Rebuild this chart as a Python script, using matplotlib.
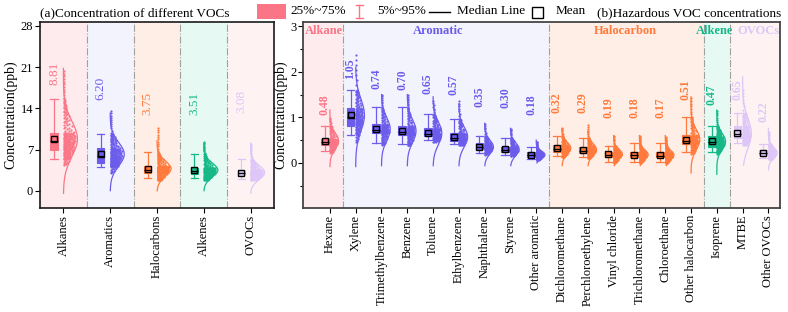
import numpy as np
import matplotlib
matplotlib.use("Agg")
import matplotlib.pyplot as plt
from matplotlib.patches import Rectangle

plt.rcParams['font.family'] = ['Liberation Serif', 'DejaVu Serif']

# ---------------- panel (a): VOC groups ----------------
a_names = ['Alkanes', 'Aromatics', 'Halocarbons', 'Alkenes', 'OVOCs']
a_mean = [8.81, 6.20, 3.75, 3.51, 3.08]
a_min = [4.4, 2.96, 1.8, 1.8, 1.8]
a_p5 = [5.35, 4.1, 2.1, 2.1, 2.0]
a_q1 = [6.93, 4.77, 3.07, 2.8, 2.6]
a_med = [8.4, 5.9, 3.55, 3.4, 3.0]
a_q3 = [9.88, 7.2, 4.2, 3.9, 3.5]
a_p95 = [15.6, 9.66, 6.54, 6.2, 5.35]
a_max = [20.6, 13.7, 10.9, 8.35, 8.07]
a_sd = [3.0, 2.0, 1.3, 1.2, 1.2]
a_curve_lo = [-0.45, 0.0, 0.0, 0.0, -0.4]
a_curve_hi = [20.8, 13.2, 8.5, 8.0, 8.1]
a_label_y = [18.0, 15.45, 12.9, 12.9, 13.2]
a_group = ['Alkane', 'Aromatic', 'Halocarbon', 'Alkene', 'OVOCs']

# ---------------- panel (b): hazardous VOCs ----------------
b_names = ['Hexane', 'Xylene', 'Trimethylbenzene', 'Benzene', 'Toluene',
           'Ethylbenzene', 'Naphthalene', 'Styrene', 'Other aromatic',
           'Dichloromethane', 'Perchloroethylene', 'Vinyl chloride',
           'Trichloromethane', 'Chloroethane', 'Other halocarbon',
           'Isoprene', 'MTBE', 'Other OVOCs']
b_group = ['Alkane'] + ['Aromatic'] * 8 + ['Halocarbon'] * 6 + ['Alkene'] + ['OVOCs'] * 2
b_mean = [0.48, 1.05, 0.74, 0.70, 0.65, 0.57, 0.35, 0.30, 0.18,
          0.32, 0.29, 0.19, 0.18, 0.17, 0.51, 0.47, 0.65, 0.22]
b_min = [0.22, 0.45, 0.40, 0.38, 0.45, 0.38, 0.18, 0.15, 0.06,
         0.12, 0.10, 0.00, 0.00, 0.00, 0.20, 0.20, 0.38, 0.08]
b_p5 = [0.27, 0.61, 0.44, 0.42, 0.50, 0.42, 0.21, 0.18, 0.08,
        0.15, 0.13, 0.02, 0.02, 0.01, 0.25, 0.25, 0.43, 0.10]
b_q1 = [0.39, 0.82, 0.65, 0.61, 0.59, 0.49, 0.31, 0.25, 0.12,
        0.25, 0.22, 0.12, 0.12, 0.12, 0.42, 0.36, 0.55, 0.17]
b_med = [0.45, 1.00, 0.72, 0.68, 0.63, 0.55, 0.34, 0.29, 0.18,
         0.31, 0.27, 0.18, 0.17, 0.16, 0.48, 0.45, 0.63, 0.21]
b_q3 = [0.52, 1.20, 0.85, 0.81, 0.77, 0.65, 0.43, 0.36, 0.25,
        0.39, 0.36, 0.25, 0.25, 0.24, 0.61, 0.58, 0.80, 0.28]
b_p95 = [0.82, 1.60, 1.23, 1.23, 1.07, 0.97, 0.59, 0.55, 0.36,
         0.58, 0.55, 0.38, 0.43, 0.43, 1.01, 0.81, 1.10, 0.42]
b_max = [1.00, 2.43, 1.52, 1.50, 1.38, 1.38, 0.87, 0.76, 0.47,
         0.79, 0.85, 0.61, 0.61, 0.58, 1.45, 1.16, 1.64, 0.70]
b_sd = [0.18, 0.35, 0.25, 0.25, 0.25, 0.22, 0.15, 0.14, 0.08,
        0.13, 0.13, 0.11, 0.11, 0.11, 0.22, 0.18, 0.33, 0.12]
b_curve_lo = [-0.08, -0.08, -0.06, -0.06, -0.06, -0.06, -0.06, -0.06, 0.0,
              -0.06, -0.06, -0.06, -0.06, -0.06, -0.22, -0.25, -0.05, -0.15]
b_curve_hi = [1.16, 2.1, 1.5, 1.5, 1.45, 1.3, 0.87, 0.76, 0.5,
              0.75, 0.7, 0.6, 0.6, 0.6, 1.45, 1.16, 1.89, 0.76]
b_label_y = [1.05, 1.85, 1.63, 1.60, 1.52, 1.49, 1.23, 1.20, 1.05,
             1.09, 1.09, 0.98, 0.98, 0.98, 1.38, 1.27, 1.38, 0.90]
b_group_titles = ['Alkane', 'Aromatic', 'Halocarbon', 'Alkene', 'OVOCs']
b_group_title_x = [-0.22, 4.2, 11.45, 14.9, 16.6]

colors = {'Alkane': '#FA7585', 'Aromatic': '#6C5CEC', 'Halocarbon': '#FF7A3C',
          'Alkene': '#16B888', 'OVOCs': '#DEC6F8'}
bands = {'Alkane': '#FDEBEE', 'Aromatic': '#F3F3FD', 'Halocarbon': '#FEEEE6',
         'Alkene': '#E6FAF3', 'OVOCs': '#FEF3F2'}

QLEV = [0, 0.05, 0.25, 0.5, 0.75, 0.95, 1.0]


def draw_panel(ax, names, groups, mean, mn, p5, q1, med, q3, p95, mx, sd,
               clo, chi, lab_y, box_w, half_w, n_pts, lab_kw, xlim):
    x = np.arange(len(names))
    # background bands per group
    edges = [xlim[0]]
    for i in range(1, len(groups)):
        if groups[i] != groups[i - 1]:
            edges.append(i - 0.5)
    edges.append(xlim[1])
    order = [g for i, g in enumerate(groups) if i == 0 or groups[i] != groups[i - 1]]
    for g, l, r in zip(order, edges[:-1], edges[1:]):
        ax.axvspan(l, r, color=bands[g], zorder=0, lw=0)
    for e in edges[1:-1]:
        ax.axvline(e, color='#A0A0A0', lw=0.8, ls='-.', zorder=0.5)

    for i in range(len(names)):
        c = colors[groups[i]]
        # normal curve (half violin)
        yy = np.linspace(clo[i], chi[i], 200)
        ww = half_w * np.exp(-0.5 * ((yy - mean[i]) / sd[i]) ** 2)
        ax.plot(x[i] + ww, yy, color=c, lw=0.9, zorder=2)
        # scatter cloud from the quantiles
        lev = (np.arange(n_pts) + 0.5) / n_pts
        py = np.interp(lev, QLEV, [mn[i], p5[i], q1[i], med[i], q3[i], p95[i], mx[i]])
        frac = ((np.arange(n_pts) * 0.618034) % 1.0) ** 1.5
        pw = half_w * np.exp(-0.5 * ((py - mean[i]) / sd[i]) ** 2)
        px = x[i] + 0.012 + frac * 0.8 * pw
        ax.scatter(px, py, s=2.5, color=c, lw=0, zorder=3)
        # box
        st = [dict(med=med[i], q1=q1[i], q3=q3[i], whislo=p5[i], whishi=p95[i],
                   mean=mean[i], fliers=[])]
        ax.bxp(st, positions=[x[i] - 0.2], widths=box_w, patch_artist=True,
               showmeans=True, showfliers=False, manage_ticks=False,
               boxprops=dict(facecolor=c, edgecolor=c, lw=0.8),
               whiskerprops=dict(color=c, lw=0.9),
               capprops=dict(color=c, lw=0.9),
               capwidths=box_w,
               medianprops=dict(color='black', lw=0.9),
               meanprops=dict(marker='s', markerfacecolor='none',
                              markeredgecolor='black', markersize=4.5,
                              markeredgewidth=1.0),
               zorder=4)
        ax.text(x[i] - 0.2, lab_y[i], f'{mean[i]:.2f}', rotation=90,
                ha='center', va='bottom', color=c, zorder=5, **lab_kw)

    ax.set_xlim(*xlim)
    ax.set_xticks(x)
    ax.set_xticklabels(names, rotation=90, fontsize=9)
    ax.tick_params(axis='both', direction='out', length=3.5, width=0.8,
                   labelsize=9, pad=1.5)
    ax.set_ylabel('Concentration(ppb)', fontsize=10, labelpad=2)


fig = plt.figure(figsize=(7.88, 3.12), dpi=100)
ax1 = fig.add_axes([40 / 788, 1 - 208 / 312, 234 / 788, 186.3 / 312])
ax2 = fig.add_axes([303.3 / 788, 1 - 208 / 312, 476.7 / 788, 186.3 / 312])

draw_panel(ax1, a_names, a_group, a_mean, a_min, a_p5, a_q1, a_med, a_q3,
           a_p95, a_max, a_sd, a_curve_lo, a_curve_hi, a_label_y,
           0.155, 0.30, 220, dict(fontsize=9.5), (-0.5, 4.5))
ax1.set_ylim(-2.94, 28.73)
ax1.set_yticks([0, 7, 14, 21, 28])

draw_panel(ax2, b_names, b_group, b_mean, b_min, b_p5, b_q1, b_med, b_q3,
           b_p95, b_max, b_sd, b_curve_lo, b_curve_hi, b_label_y,
           0.3, 0.34, 150, dict(fontsize=8.5, fontweight='bold'), (-1.03, 17.45))
ax2.set_ylim(-0.99, 3.1)
ax2.set_yticks([0, 1, 2, 3])
ax2.set_yticks(np.arange(-0.5, 3.0, 1.0), minor=True)
ax2.tick_params(axis='y', which='minor', direction='out', length=2, width=0.8)
ax2.tick_params(axis='x', which='minor', bottom=False)
for g, gx in zip(b_group_titles, b_group_title_x):
    ax2.text(gx, 2.89, g, ha='center', va='center', color=colors[g],
             fontsize=9, fontweight='bold', zorder=5)

for sp in ax1.spines.values():
    sp.set_color('#1a1a1a')
    sp.set_linewidth(1.2)
for sp in ax2.spines.values():
    sp.set_color('#444444')
    sp.set_linewidth(1.3)

# titles
fig.text(40 / 788, 1 - 13 / 312, '(a)Concentration of different VOCs',
         ha='left', va='center', fontsize=9.5)
fig.text(781 / 788, 1 - 13 / 312, '(b)Hazardous VOC concentrations',
         ha='right', va='center', fontsize=9.5)

# legend (drawn in pixel coordinates of an overlay axes)
lax = fig.add_axes([0, 0, 1, 1], zorder=10)
lax.set_xlim(0, 788)
lax.set_ylim(312, 0)
lax.axis('off')
lax.add_patch(Rectangle((257, 4), 29, 14.5, color=colors['Alkane'], lw=0))
lax.text(290, 11.5, '25%~75%', ha='left', va='center', fontsize=9.5)
lax.plot([359.3, 359.3], [5, 18], color=colors['Alkane'], lw=1)
lax.plot([356, 362.6], [5, 5], color=colors['Alkane'], lw=1)
lax.plot([356, 362.6], [18, 18], color=colors['Alkane'], lw=1)
lax.text(377, 11.5, '5%~95%', ha='left', va='center', fontsize=9.5)
lax.plot([429, 450], [12, 12], color='black', lw=1)
lax.text(457, 11.5, 'Median Line', ha='left', va='center', fontsize=9.5)
lax.add_patch(Rectangle((532, 6.5), 11, 11, fill=False, ec='black', lw=1))
lax.text(556, 11.5, 'Mean', ha='left', va='center', fontsize=9.5)

fig.savefig('out.png', dpi=100)
